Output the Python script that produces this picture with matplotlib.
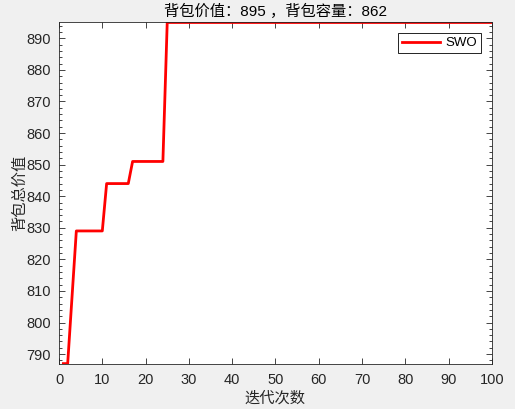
import matplotlib
matplotlib.use("Agg")
import matplotlib.pyplot as plt
from matplotlib.ticker import MultipleLocator

iters = list(range(1, 101))
step_iters = [1, 2, 3, 4, 10, 11, 16, 17, 24, 25, 100]
step_vals = [787, 787, 808, 829, 829, 844, 844, 851, 851, 895, 895]

# expand to per-iteration best values
values = []
for it in iters:
    v = step_vals[0]
    for si, sv in zip(step_iters, step_vals):
        if it >= si:
            v = sv
    values.append(v)

title_text = "背包价值：895 ，背包容量：862"
xlabel_text = "迭代次数"
ylabel_text = "背包总价值"
legend_label = "SWO"

fam = ['Liberation Sans', 'Noto Sans CJK SC']
txt = '#262626'
plt.rcParams['font.family'] = fam

fig = plt.figure(figsize=(5.15, 4.09), dpi=100, facecolor='#f0f0f0')
ax = fig.add_axes([0.1146, 0.111, 0.8404, 0.834])
ax.set_facecolor('white')
ax.plot(iters, values, color='#ff0000', lw=2.0, label=legend_label)
ax.set_xlim(0, 100)
ax.set_ylim(787, 895)
ax.xaxis.set_major_locator(MultipleLocator(10))
ax.yaxis.set_major_locator(MultipleLocator(10))
ax.yaxis.set_minor_locator(MultipleLocator(2))
ax.tick_params(which='both', direction='in', top=True, right=True, colors=txt, labelsize=10.5)
ax.tick_params(axis='x', which='major', length=4.5, width=0.6, pad=7)
ax.tick_params(axis='y', which='major', length=4.5, width=0.6, pad=6)
ax.tick_params(which='minor', length=2.5, width=0.6)
for s in ax.spines.values():
    s.set_color(txt)
    s.set_linewidth(0.6)
ax.set_title(title_text, fontsize=11, color='black', pad=5)
ax.set_xlabel(xlabel_text, fontsize=11, color=txt, labelpad=3)
ax.set_ylabel(ylabel_text, fontsize=11, color=txt, labelpad=-1)
leg = ax.legend(loc='upper right', fancybox=False, edgecolor='black', framealpha=1,
                fontsize=9.5, handlelength=2.9, borderpad=0.3, handletextpad=0.4,
                borderaxespad=0.8)
leg.get_frame().set_linewidth(0.6)
fig.savefig('out.png', dpi=100, facecolor=fig.get_facecolor())
